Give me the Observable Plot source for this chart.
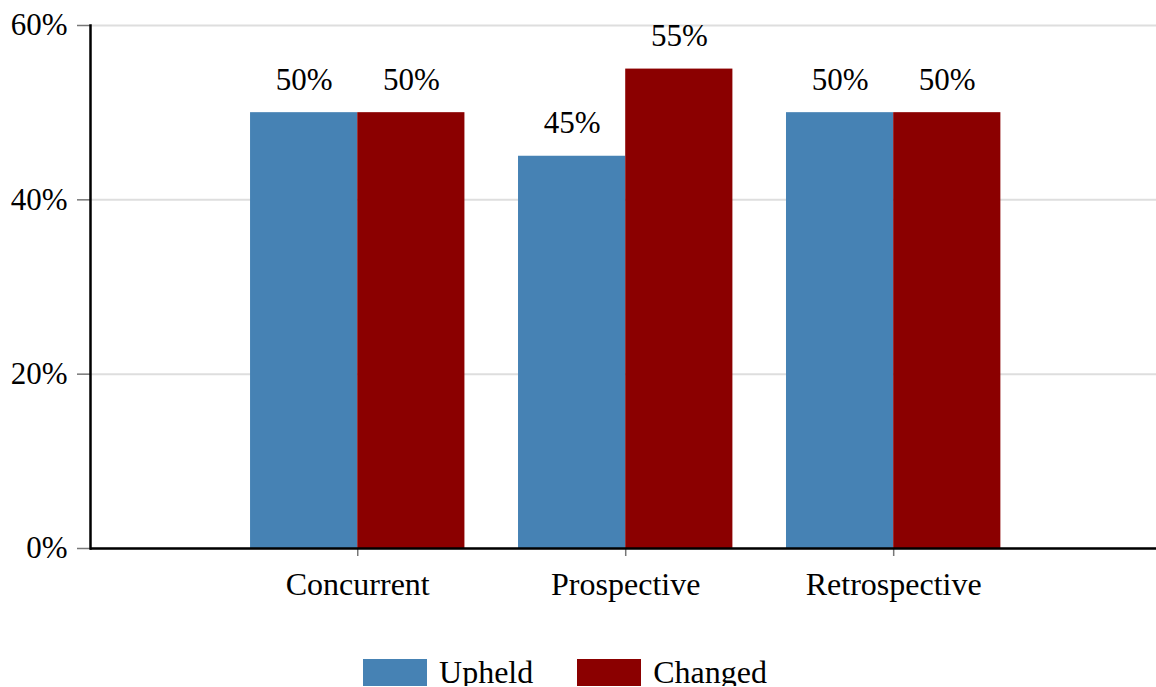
<!DOCTYPE html>
<html>
<head>
<meta charset="utf-8">
<script src="https://cdn.jsdelivr.net/npm/d3@7"></script>
<script src="https://cdn.jsdelivr.net/npm/@observablehq/plot@0.6"></script>
<style>
  html, body { margin: 0; padding: 0; background: #fff; overflow: hidden; }
  #legend { display: flex; justify-content: center; align-items: center; width: 1156px;
    padding-top: 19px; padding-right: 26px; box-sizing: border-box;
    font-family: "Liberation Serif", "Times New Roman", serif; font-size: 32px; color: #000; }
  .item { display: flex; align-items: center; margin: 0 22px; }
  .sw { width: 64px; height: 27px; margin-right: 12px; }
  .lb { line-height: 27px; }
</style>
</head>
<body>
<div id="chart"></div>
<div id="legend"></div>
<script>
const categories = ["Concurrent", "Prospective", "Retrospective"];
const seriesNames = ["Upheld", "Changed"];
const upheld = [50, 45, 50];
const changed = [50, 55, 50];
const yTicks = [0, 20, 40, 60];
const seriesColors = ["#4682b4", "#8b0000"];

const W = 1156, H = 640, ML = 90, MR = 0, MT = 25, MB = 92;
const PI = 0.2, PO = 0.589, ALIGN = 0.507;

// bandwidth of the x band scale, to split each band between the two series
const band = d3.scaleBand(categories, [ML, W - MR]).paddingInner(PI).paddingOuter(PO).align(ALIGN);
const half = band.bandwidth() / 2;

const data = categories.flatMap((c, i) => [
  {category: c, series: seriesNames[0], value: upheld[i]},
  {category: c, series: seriesNames[1], value: changed[i]}
]);
const up = data.filter(d => d.series === seriesNames[0]);
const ch = data.filter(d => d.series === seriesNames[1]);

const chart = Plot.plot({
  width: W, height: H,
  marginLeft: ML, marginRight: MR, marginTop: MT, marginBottom: MB,
  style: {fontFamily: "'Liberation Serif', 'Times New Roman', serif", fontSize: "31px", color: "#000", background: "#fff", overflow: "visible"},
  x: {domain: categories, paddingInner: PI, paddingOuter: PO, align: ALIGN, round: false, label: null},
  y: {domain: [0, 60], label: null},
  color: {domain: seriesNames, range: seriesColors},
  marks: [
    Plot.gridY(yTicks, {stroke: "#dedede", strokeOpacity: 1, strokeWidth: 2}),
    Plot.barY(up, {x: "category", y: "value", fill: "series", insetRight: half}),
    Plot.barY(ch, {x: "category", y: "value", fill: "series", insetLeft: half}),
    Plot.text(up, {x: "category", y: "value", text: d => d.value + "%", dx: -half / 2, dy: -23, lineAnchor: "bottom", fill: "#000"}),
    Plot.text(ch, {x: "category", y: "value", text: d => d.value + "%", dx: half / 2, dy: -23, lineAnchor: "bottom", fill: "#000"}),
    Plot.axisY(yTicks, {tickFormat: d => d + "%", tickSize: 13, tickPadding: 10, stroke: "#777", strokeWidth: 1.5, fill: "#000"}),
    Plot.axisX({tickSize: 8, tickPadding: 16, stroke: "#777", strokeWidth: 1.5, fill: "#000", fontSize: 32}),
    Plot.ruleY([0], {stroke: "#000", strokeWidth: 2.5}),
    Plot.frame({anchor: "left", stroke: "#000", strokeWidth: 2.5})
  ]
});
document.getElementById("chart").appendChild(chart);

const legend = document.getElementById("legend");
seriesNames.forEach((s, i) => {
  const it = document.createElement("div");
  it.className = "item";
  const sw = document.createElement("div");
  sw.className = "sw";
  sw.style.background = seriesColors[i];
  const lb = document.createElement("span");
  lb.className = "lb";
  lb.textContent = s;
  it.appendChild(sw); it.appendChild(lb);
  legend.appendChild(it);
});
</script>
</body>
</html>
